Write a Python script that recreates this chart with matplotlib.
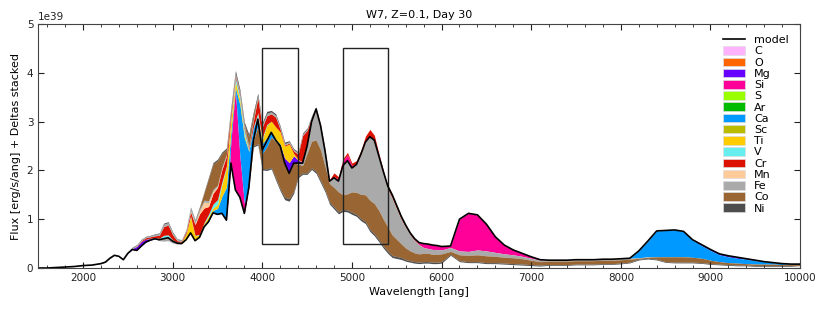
import numpy as np
import matplotlib
matplotlib.use('Agg')
import matplotlib.pyplot as plt
from matplotlib.patches import Patch, Rectangle
from matplotlib.lines import Line2D
from matplotlib.ticker import MultipleLocator

# wavelength grid [ang]: 100 ang steps at the ends, 50 ang in the busy middle
wave = np.concatenate([np.arange(1500, 2200, 100),
                       np.arange(2200, 6000, 50),
                       np.arange(6000, 10001, 100)])

# model flux, units of 1e39 erg/s/ang
model = [0.00, 0.00, 0.01, 0.02, 0.03, 0.05, 0.06,
         0.09, 0.12, 0.20, 0.26, 0.24, 0.17, 0.30, 0.38, 0.36, 0.45,
         0.53, 0.57, 0.60, 0.58, 0.60, 0.62, 0.55, 0.51, 0.50, 0.58,
         0.72, 0.56, 0.63, 0.84, 0.95, 1.13, 1.10, 1.12, 0.98, 2.15,
         1.60, 1.45, 1.12, 1.65, 2.60, 3.05, 2.42, 2.60, 2.78, 2.62,
         2.50, 2.15, 1.94, 2.15, 2.15, 2.15, 2.50, 3.00, 3.26, 2.92,
         2.40, 1.78, 1.85, 1.78, 2.10, 2.20, 2.05, 2.12, 2.33, 2.58,
         2.69, 2.62, 2.30, 1.98, 1.68, 1.50, 1.28, 1.06, 0.88, 0.72,
         0.60, 0.52, 0.50, 0.49, 0.47, 0.46,
         0.44, 0.45, 1.00, 1.12, 1.09, 0.90, 0.64, 0.47, 0.37, 0.30,
         0.23, 0.17, 0.16, 0.16, 0.16, 0.17, 0.17, 0.17, 0.18, 0.18,
         0.19, 0.20, 0.35, 0.55, 0.76, 0.77, 0.78, 0.75, 0.58, 0.48,
         0.38, 0.29, 0.25, 0.22, 0.19, 0.16, 0.13, 0.11, 0.09, 0.08, 0.08]

# deltas stacked above the model: (start wavelength, values on the grid)
mg_up = [(2550, [0.02, 0.08, 0.09, 0.06, 0.03, 0.01]),
         (4200, [0.02, 0.10, 0.22, 0.15, 0.06, 0.02])]
si_up = [(3650, [0.45, 2.05, 0.85, 0.20, 0.02, 0.02, 0.04, 0.08, 0.02]),
         (4800, [0.02, 0.05, 0.10, 0.12, 0.05, 0.02])]
ca_up = [(3350, [0.02, 0.04, 0.05, 0.12, 0.35, 0.68, 0.20, 0.05, 1.05,
                 1.35, 0.72, 0.25, 0.02, 0.05, 0.05, 0.03, 0.02, 0.02])]
ti_up = [(2850, [0.01, 0.02, 0.02, 0.01, 0.01, 0.03, 0.12, 0.33, 0.10, 0.05,
                 0.05, 0.07, 0.05, 0.08, 0.25, 0.40, 0.25, 0.12, 0.10, 0.06,
                 0.02, 0.00, 0.02, 0.08, 0.25, 0.20, 0.25, 0.25, 0.25, 0.38,
                 0.05, 0.02])]
v_up = [(2750, [0.01, 0.01, 0.02, 0.05, 0.04, 0.02, 0.01, 0.00, 0.01, 0.02,
                0.01, 0.01, 0.02, 0.04, 0.08, 0.10, 0.05, 0.03, 0.05, 0.08,
                0.08, 0.10, 0.02, 0.02, 0.05, 0.04, 0.02])]
cr_up = [(2600, [0.01, 0.02, 0.03, 0.03, 0.04, 0.06, 0.18, 0.20, 0.10, 0.03,
                 0.02, 0.04, 0.08, 0.22, 0.42, 0.30, 0.16, 0.22, 0.25, 0.25,
                 0.20, 0.10, 0.04, 0.04, 0.05, 0.03, 0.12, 0.30, 0.22, 0.18,
                 0.15, 0.20, 0.05, 0.02, 0.02, 0.05, 0.10, 0.55, 0.32, 0.08,
                 0.02, 0.02, 0.02, 0.03, 0.08, 0.04, 0.04, 0.05, 0.05, 0.06,
                 0.08, 0.12, 0.15, 0.10, 0.05, 0.02])]
mn_up = [(3200, [0.02, 0.02, 0.05, 0.12, 0.08, 0.04, 0.02, 0.02, 0.01])]
fe_up = [(2200, [0.02, 0.03, 0.03, 0.02, 0.01, 0.01, 0.02, 0.02, 0.02, 0.02,
                 0.02, 0.02, 0.03, 0.04, 0.05, 0.05, 0.04, 0.03, 0.02, 0.03,
                 0.06, 0.06, 0.05, 0.04, 0.04, 0.04, 0.03, 0.03, 0.03, 0.05,
                 0.05, 0.04, 0.04, 0.03, 0.04, 0.05, 0.05, 0.05, 0.04, 0.04,
                 0.04, 0.03, 0.03, 0.03, 0.03, 0.03, 0.03, 0.02, 0.01])]
co_up = [(3300, [0.03, 0.15, 0.45, 0.52, 0.50, 0.28, 0.10, 0.00, 0.00, 0.00,
                 0.02, 0.20, 0.10])]
ni_up = [(2500, [0.01, 0.01, 0.01, 0.01, 0.01, 0.01, 0.01, 0.01, 0.02, 0.02,
                 0.02, 0.01, 0.01, 0.01, 0.02, 0.02, 0.02, 0.02, 0.03, 0.03,
                 0.03, 0.03, 0.03, 0.05, 0.06, 0.05, 0.05, 0.05, 0.05, 0.05,
                 0.04, 0.04, 0.03, 0.03, 0.03, 0.03, 0.02, 0.02, 0.02, 0.02,
                 0.02, 0.02, 0.01])]

# deltas stacked below the model
mg_dn = [(8800, [0.01, 0.02, 0.02, 0.02, 0.02, 0.02, 0.01, 0.01])]
si_dn = [(5700, [0.02, 0.04, 0.08, 0.09, 0.09, 0.08, 0.07, 0.03, 0.65, 0.78,
                 0.72, 0.55, 0.32, 0.18, 0.10, 0.06, 0.03, 0.01])]
s_dn = [(5400, [0.01, 0.015, 0.015, 0.015, 0.01, 0.01])]
ca_dn = [(3950, [0.15, 0.08, 0.12, 0.10, 0.03]),
         (8200, [0.14, 0.32, 0.53, 0.54, 0.55, 0.52, 0.35, 0.26, 0.20, 0.14,
                 0.12, 0.10, 0.09, 0.07, 0.05, 0.03, 0.02, 0.01, 0.01])]
cr_dn = [(5350, [0.03, 0.05, 0.06, 0.06, 0.05, 0.04, 0.03, 0.02, 0.01])]
fe_dn = [(2850, [0.02, 0.05, 0.06, 0.04, 0.02]),
         (4400, [0.02, 0.05, 0.15, 0.40, 0.64, 0.50, 0.32, 0.05, 0.20, 0.22,
                 0.60, 0.68, 0.49, 0.57, 0.82, 1.08, 1.30, 1.30, 1.12, 0.95,
                 0.78, 0.75, 0.62, 0.50, 0.42, 0.33, 0.25, 0.18, 0.12, 0.10,
                 0.10, 0.10,
                 0.08, 0.08, 0.08, 0.08, 0.10, 0.10, 0.08, 0.07, 0.06, 0.05,
                 0.04, 0.03, 0.02, 0.02, 0.02, 0.02, 0.02, 0.02, 0.02, 0.02,
                 0.02, 0.02, 0.01, 0.01])]
co_dn = [(3900, [0.10, 0.35, 0.30, 0.45, 0.62, 0.75, 0.88, 0.70, 0.52, 0.58,
                 0.25, 0.15, 0.40, 0.55, 0.64, 0.63, 0.48, 0.38, 0.40, 0.41,
                 0.30, 0.33, 0.42, 0.45, 0.50, 0.55, 0.60, 0.62, 0.60, 0.55,
                 0.50, 0.42, 0.35, 0.28, 0.24, 0.20, 0.18, 0.17, 0.17, 0.17,
                 0.16, 0.16,
                 0.16, 0.06, 0.12, 0.13, 0.14, 0.14, 0.13, 0.12, 0.12, 0.11,
                 0.09, 0.07, 0.07, 0.07, 0.07, 0.07, 0.07, 0.07, 0.07, 0.07,
                 0.07, 0.06, 0.02, 0.02, 0.05, 0.10, 0.11, 0.11, 0.10, 0.09,
                 0.07, 0.05, 0.04, 0.04, 0.03, 0.03, 0.03, 0.03, 0.02, 0.02,
                 0.02])]
ni_dn = [(3900, [0.02, 0.03, 0.03, 0.03, 0.03, 0.04, 0.04, 0.05, 0.05, 0.04,
                 0.03, 0.03, 0.03, 0.03, 0.04, 0.04, 0.04, 0.04, 0.04, 0.04,
                 0.04, 0.04, 0.04, 0.04, 0.04, 0.04, 0.04, 0.04, 0.04, 0.04,
                 0.04, 0.04, 0.04, 0.04, 0.03, 0.03, 0.03, 0.03, 0.03, 0.03,
                 0.03, 0.03,
                 0.03, 0.02, 0.02, 0.02, 0.02, 0.02, 0.02, 0.02, 0.02, 0.02,
                 0.02, 0.02, 0.015, 0.015, 0.015, 0.015, 0.015, 0.015, 0.015,
                 0.015, 0.015, 0.015, 0.015, 0.015, 0.015, 0.015, 0.015, 0.015,
                 0.015, 0.015, 0.015, 0.015, 0.015, 0.015, 0.015, 0.015, 0.015,
                 0.015, 0.015, 0.015])]

elements = ['C', 'O', 'Mg', 'Si', 'S', 'Ar', 'Ca', 'Sc', 'Ti', 'V', 'Cr',
            'Mn', 'Fe', 'Co', 'Ni']
colors = ['#ffb3ff', '#ff6600', '#6600ff', '#ff0099', '#99ff00', '#00bb00',
          '#0099ff', '#bbbb00', '#ffcc00', '#66eeee', '#dd1100', '#ffcc99',
          '#aaaaaa', '#996633', '#4d4d4d']

# boxes marked on the plot: (lambda_min, lambda_max) and flux range
windows = [(4000, 4400), (4900, 5400)]
window_flux = (0.5, 4.5)

scale = 1e39


def layer(segments):
    out = np.zeros(len(wave))
    for start, vals in segments:
        i = int(np.searchsorted(wave, start))
        out[i:i + len(vals)] = vals
    return out


col = dict(zip(elements, colors))
model = np.array(model)

fig = plt.figure(figsize=(8.3, 3.12), dpi=100)
ax = fig.add_axes([0.046, 0.141, 0.918, 0.782])

up = [('Mg', mg_up), ('Si', si_up), ('Ca', ca_up), ('Ti', ti_up), ('V', v_up),
      ('Cr', cr_up), ('Mn', mn_up), ('Fe', fe_up), ('Co', co_up), ('Ni', ni_up)]
dn = [('Mg', mg_dn), ('Si', si_dn), ('S', s_dn), ('Ca', ca_dn), ('Cr', cr_dn),
      ('Fe', fe_dn), ('Co', co_dn), ('Ni', ni_dn)]

base = model.copy()
for el, segs in up:
    top = base + layer(segs)
    ax.fill_between(wave, base * scale, top * scale, color=col[el], lw=0)
    base = top
base = model.copy()
for el, segs in dn:
    bot = base - layer(segs)
    ax.fill_between(wave, bot * scale, base * scale, color=col[el], lw=0)
    base = bot

ax.plot(wave, model * scale, color='black', lw=1.2)

for x0, x1 in windows:
    ax.add_patch(Rectangle((x0, window_flux[0] * scale), x1 - x0,
                           (window_flux[1] - window_flux[0]) * scale,
                           fill=False, edgecolor='#222222', lw=1))

ax.set_xlim(1500, 10000)
ax.set_ylim(0, 5 * scale)
ax.xaxis.set_minor_locator(MultipleLocator(200))
ax.tick_params(which='both', direction='in', top=True, right=True,
               labelsize=7.5, colors='#222222')
ax.tick_params(which='major', length=4)
ax.tick_params(which='minor', length=2)
ax.yaxis.get_offset_text().set_fontsize(7.5)
for s in ax.spines.values():
    s.set_color('#444444')

ax.set_title('W7, Z=0.1, Day 30', fontsize=8, pad=4)
ax.set_xlabel('Wavelength [ang]', fontsize=8, labelpad=3)
ax.set_ylabel('Flux [erg/s/ang] + Deltas stacked', fontsize=8, labelpad=4)

handles = [Line2D([], [], color='black', lw=1.2)]
handles += [Patch(facecolor=c, edgecolor='#dddddd', lw=0.5) for c in colors]
ax.legend(handles, ['model'] + elements, loc='upper right', frameon=False,
          fontsize=8, labelspacing=0.1, handlelength=2.0, handleheight=0.8,
          handletextpad=0.8, borderaxespad=0.6)

fig.savefig('out.png', dpi=100)
